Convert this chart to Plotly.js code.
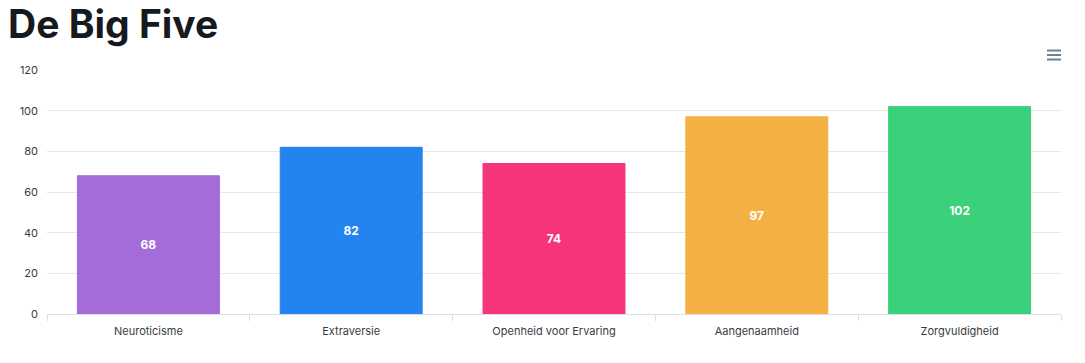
<!DOCTYPE html>
<html><head><meta charset="utf-8">
<script src="https://cdn.plot.ly/plotly-3.0.1.min.js"></script>
<style>body{margin:0;background:#fff}#c{width:1085px;height:363px}</style>
</head><body><div id="c"></div>
<script>
const categories = ["Neuroticisme", "Extraversie", "Openheid voor Ervaring", "Aangenaamheid", "Zorgvuldigheid"];
const values = [68, 82, 74, 97, 102];
const barColors = ["#a36cd9", "#2484ef", "#f6347a", "#f5b043", "#3ad17a"];
const yTicks = [0, 20, 40, 60, 80, 100, 120];

const trace = {
  type: 'bar', x: categories, y: values,
  marker: {color: barColors, line: {color: barColors, width: 1}},
  width: 0.7,
  text: values.map(String), textposition: 'inside', insidetextanchor: 'middle',
  textfont: {family: 'Inter, sans-serif', size: 12, color: '#ffffff', weight: 700},
  hoverinfo: 'x+y'
};
const W = 1085, H = 363;
const m = {l: 47, r: 24, t: 70, b: 48.5};
const pw = W - m.l - m.r, ph = H - m.t - m.b;
function px(x){return (x - m.l)/pw;}
function py(y){return (H - m.b - y)/ph;}
const shapes = [];
[50.5, 55, 59.5].forEach(y => shapes.push({type:'line', xref:'paper', yref:'paper', x0:px(1047), x1:px(1061), y0:py(y), y1:py(y), line:{color:'#6e8192', width:2}}));
const layout = {
  width: W, height: H, margin: m,
  paper_bgcolor: '#fff', plot_bgcolor: '#fff',
  font: {family: 'Inter, sans-serif', color: '#373d3f'},
  title: {text: 'De Big Five', x: 8/W, xanchor: 'left', xref: 'container', y: 1 - 24/H, yanchor: 'middle', yref: 'container', font: {family: 'Inter, sans-serif', size: 39, color: '#16191d', weight: 700}},
  showlegend: false,
  bargap: 0.3,
  xaxis: {showgrid: false, showline: true, linecolor: '#e0e0e0', linewidth: 1, ticks: 'outside', tickson: 'boundaries', ticklen: 6, tickcolor: '#e0e0e0', ticklabelstandoff: 7, tickfont: {size: 11, color: '#373d3f'}, fixedrange: true},
  yaxis: {range: [0, 120], tickvals: yTicks, ticktext: yTicks.map(String), showgrid: true, gridcolor: '#e6e6e6', zeroline: false, showline: false, ticks: '', ticklabelstandoff: 8, tickfont: {size: 11, color: '#373d3f'}, fixedrange: true},
  shapes: shapes
};
Plotly.newPlot('c', [trace], layout, {displayModeBar: false, staticPlot: false});
</script></body></html>
